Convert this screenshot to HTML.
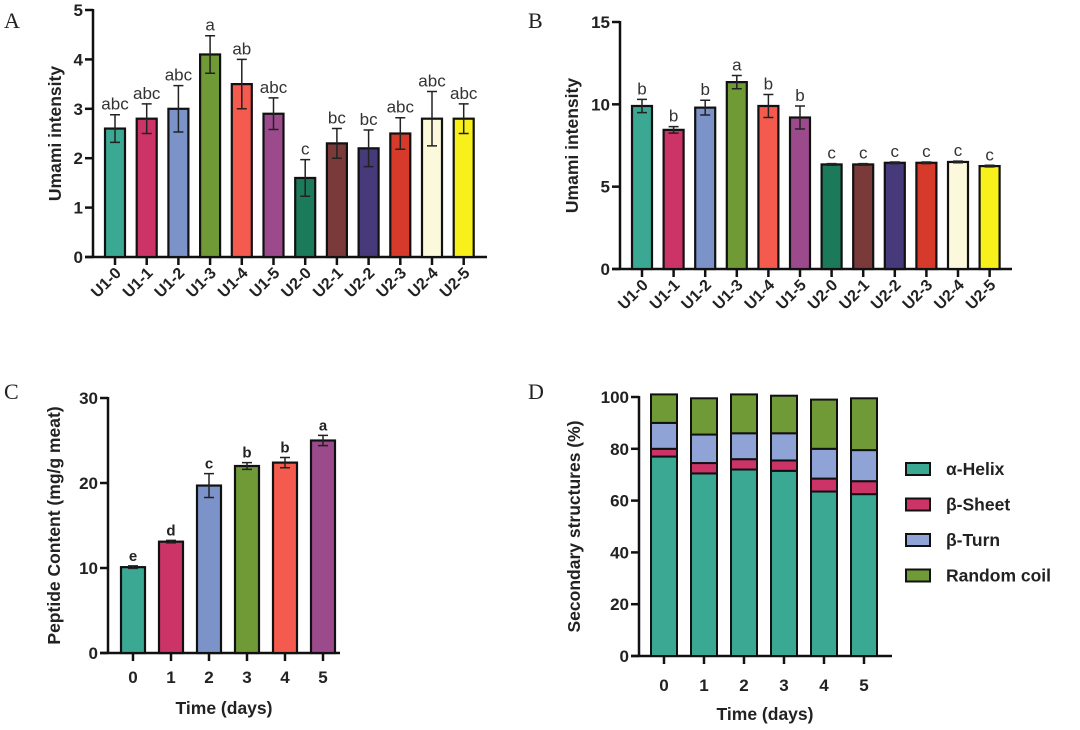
<!DOCTYPE html>
<html><head><meta charset="utf-8">
<style>
body{margin:0;background:#fff;}
svg{display:block;font-family:"Liberation Sans",Arial,sans-serif;}
.pl{font-family:"Liberation Serif",serif;font-size:22px;fill:#222;}
.tk{font-size:17px;font-weight:bold;fill:#222;}
.tkx{font-size:16px;font-weight:bold;fill:#222;}
.tt{font-size:17.5px;font-weight:bold;fill:#222;}
.sig{font-size:17px;fill:#333;}
.sigb{font-size:15px;font-weight:bold;fill:#222;}
</style></head>
<body>
<svg id="c" width="1080" height="730" viewBox="0 0 1080 730">
<text class="pl" x="4" y="28">A</text>
<text class="pl" x="528" y="28">B</text>
<text class="pl" x="4" y="399">C</text>
<text class="pl" x="528" y="399">D</text>
</svg>
<script>
const groups=["U1-0","U1-1","U1-2","U1-3","U1-4","U1-5","U2-0","U2-1","U2-2","U2-3","U2-4","U2-5"];
const colorsA=["#3aa893","#cc3366","#7b93c9","#6f9a35","#f55a4e","#9b4a8c","#1a7a5a","#7a3a3a","#463a7a","#d63a2a","#fbf8dc","#f7f01a"];
const valsA=[2.6,2.8,3.0,4.1,3.5,2.9,1.6,2.3,2.2,2.5,2.8,2.8];
const errA=[0.28,0.3,0.47,0.38,0.5,0.32,0.37,0.3,0.37,0.32,0.55,0.3];
const sigA=["abc","abc","abc","a","ab","abc","c","bc","bc","abc","abc","abc"];
const ticksA=[0,1,2,3,4,5];
const valsB=[9.9,8.45,9.8,11.35,9.9,9.2,6.35,6.35,6.45,6.45,6.5,6.25];
const errB=[0.4,0.2,0.45,0.4,0.7,0.7,0.05,0.05,0.05,0.05,0.05,0.05];
const sigB=["b","b","b","a","b","b","c","c","c","c","c","c"];
const ticksB=[0,5,10,15];
const days=["0","1","2","3","4","5"];
const valsC=[10.1,13.1,19.7,22,22.4,25];
const errC=[0.15,0.15,1.4,0.4,0.6,0.6];
const sigC=["e","d","c","b","b","a"];
const ticksC=[0,10,20,30];
const helix=[77,70.5,72,71.5,63.5,62.5];
const sheet=[3,4,4,4,5,5];
const turn=[10,11,10,10.5,11.5,12];
const coil=[11,14,15,14.5,19,20];
const ticksD=[0,20,40,60,80,100];
const seriesD=["α-Helix","β-Sheet","β-Turn","Random coil"];
const colorsD=["#3aa893","#cc3366","#8fa3d6","#6f9a35"];

const svg=document.getElementById('c');
const NS="http://www.w3.org/2000/svg";
function mk(t,a,txt){const e=document.createElementNS(NS,t);for(const k in a)e.setAttribute(k,a[k]);if(txt!==undefined)e.textContent=txt;svg.appendChild(e);return e;}

function axes(o){
 const y=v=>o.y0-(v/o.max)*(o.y0-o.yTop);
 let e=mk('line',{x1:o.x0,y1:o.yTop-1,x2:o.x0,y2:o.y0,stroke:'#111','stroke-width':2.5});
 
 e=mk('line',{x1:o.x0-8,y1:o.y0,x2:o.xEnd,y2:o.y0,stroke:'#111','stroke-width':2.5});
 
 o.ticks.forEach(t=>{
  mk('line',{x1:o.x0-8,y1:y(t),x2:o.x0,y2:y(t),stroke:'#111','stroke-width':2.5});
  e=mk('text',{class:'tk',x:o.x0-10,y:y(t)+6,'text-anchor':'end'},t);
  
 });
 e=mk('text',{class:'tt',transform:`translate(${o.titleX},${(o.y0+o.yTop)/2}) rotate(-90)`,'text-anchor':'middle'},o.title);
 
 return y;
}
function bars(o,cats,vals,errs,sigs,cols,y){
 cats.forEach((c,i)=>{
  const cx=o.c0+i*o.sp, top=y(vals[i]);
  let e=mk('rect',{x:cx-o.w/2,y:top,width:o.w,height:o.y0-top,fill:cols[i],stroke:'#111','stroke-width':2.2});
  
  const eh=y(vals[i]+errs[i]), el=y(vals[i]-errs[i]);
  e=mk('path',{d:`M${cx},${el}V${eh}M${cx-5},${eh}H${cx+5}M${cx-5},${el}H${cx+5}`,stroke:'#222','stroke-width':1.5,fill:'none'});
  
  e=mk('text',{class:o.sigCls,x:cx,y:eh-5,'text-anchor':'middle'},sigs[i]);
  
  mk('line',{x1:cx,y1:o.y0,x2:cx,y2:o.y0+8,stroke:'#111','stroke-width':2.5});
  if(o.rot){
   e=mk('text',{class:'tkx',transform:`translate(${cx+7},${o.y0+17}) rotate(-45)`,'text-anchor':'end'},c);
  } else {
   e=mk('text',{class:'tk',x:cx,y:o.y0+30,'text-anchor':'middle'},c);
  }
  
 });
}
const oA={x0:93,xEnd:487,y0:257,yTop:10,max:5,ticks:ticksA,title:'Umami intensity',titleX:61,id:'panel-a',c0:115,sp:31.7,w:20,rot:true,sigCls:'sig'};
bars(oA,groups,valsA,errA,sigA,colorsA,axes(oA));
const oB={x0:620,xEnd:1012,y0:269,yTop:22,max:15,ticks:ticksB,title:'Umami intensity',titleX:578,id:'panel-b',c0:642,sp:31.6,w:20,rot:true,sigCls:'sig'};
bars(oB,groups,valsB,errB,sigB,colorsA,axes(oB));
const oC={x0:108,xEnd:340,y0:653,yTop:398,max:30,ticks:ticksC,title:'Peptide Content (mg/g meat)',titleX:60,id:'panel-c',c0:133,sp:38,w:24,rot:false,sigCls:'sigb'};
bars(oC,days,valsC,errC,sigC,colorsA,axes(oC));
let t=mk('text',{class:'tt',x:224,y:714,'text-anchor':'middle'},'Time (days)');

const oD={x0:639,xEnd:892,y0:656,yTop:397,max:100,ticks:ticksD,title:'Secondary structures (%)',titleX:580,id:'panel-d'};
const yD=axes(oD);
const stackD=[helix,sheet,turn,coil];
days.forEach((d,i)=>{
 const cx=664+i*40,w=26;let base=0;
 stackD.forEach((s,k)=>{
  const top=yD(base+s[i]),bot=yD(base);
  const e=mk('rect',{x:cx-w/2,y:top,width:w,height:bot-top,fill:colorsD[k],stroke:'#111','stroke-width':2});
  
  
  base+=s[i];
 });
 mk('line',{x1:cx,y1:656,x2:cx,y2:664,stroke:'#111','stroke-width':2.5});
 const e=mk('text',{class:'tk',x:cx,y:691,'text-anchor':'middle'},d);
 
});
t=mk('text',{class:'tt',x:765,y:720,'text-anchor':'middle'},'Time (days)');

seriesD.forEach((s,k)=>{
 const yy=469+k*35.5;
 let e=mk('rect',{x:906,y:yy-6,width:24,height:12,fill:colorsD[k],stroke:'#111','stroke-width':2});
 
 e=mk('text',{class:'tt',x:946,y:yy+6},s);
 
});
</script>
</body></html>
